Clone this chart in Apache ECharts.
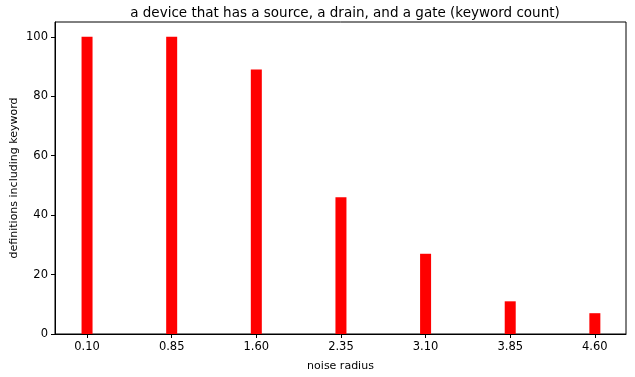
<!DOCTYPE html>
<html><head><meta charset="utf-8">
<script src="https://cdn.jsdelivr.net/npm/echarts@6/dist/echarts.min.js"></script>
<style>html,body{margin:0;padding:0;background:#fff}#c{width:635px;height:377px}</style>
</head><body><div id="c"></div>
<script>
const categories = [0.10, 0.85, 1.60, 2.35, 3.10, 3.85, 4.60];
const values = [100, 100, 89, 46, 27, 11, 7];
const yTicks = [0, 20, 40, 60, 80, 100];
const titleText = 'a device that has a source, a drain, and a gate (keyword count)';

const chart = echarts.init(document.getElementById('c'), null, {renderer: 'canvas'});
const font = 'DejaVu Sans';
chart.setOption({
  animation: false,
  title: {text: titleText, left: 340, top: 1, textAlign: 'center',
    textStyle: {fontFamily: font, fontSize: 13.5, fontWeight: 'normal', color: '#000'}},
  grid: {left: 55, right: 9, top: 22, bottom: 43, show: true, borderColor: '#000', borderWidth: 1,
    containLabel: false, outerBoundsMode: 'none'},
  xAxis: {type: 'value', min: -0.184, max: 4.876, name: 'noise radius', nameLocation: 'middle', nameGap: 27,
    nameMoveOverlap: false,
    nameTextStyle: {fontFamily: font, fontSize: 11, color: '#000'},
    axisLine: {show: true, onZero: false, lineStyle: {color: '#000'}},
    axisTick: {show: true, inside: false, length: 4, lineStyle: {color: '#000'}, customValues: categories},
    axisLabel: {fontFamily: font, fontSize: 11.5, color: '#000', margin: 7, customValues: categories,
      formatter: v => v.toFixed(2)},
    splitLine: {show: false}},
  yAxis: {type: 'value', min: 0, max: 105, name: 'definitions including keyword', nameLocation: 'middle', nameGap: 35,
    nameMoveOverlap: false,
    nameTextStyle: {fontFamily: font, fontSize: 11, color: '#000'},
    axisLine: {show: true, onZero: false, lineStyle: {color: '#000'}},
    axisTick: {show: true, inside: false, length: 4, lineStyle: {color: '#000'}, customValues: yTicks},
    axisLabel: {fontFamily: font, fontSize: 11.5, color: '#000', margin: 7, customValues: yTicks},
    splitLine: {show: false}},
  series: [{type: 'bar', data: categories.map((c, i) => [c, values[i]]), barWidth: 11,
    itemStyle: {color: '#ff0000'}}]
});
</script></body></html>
